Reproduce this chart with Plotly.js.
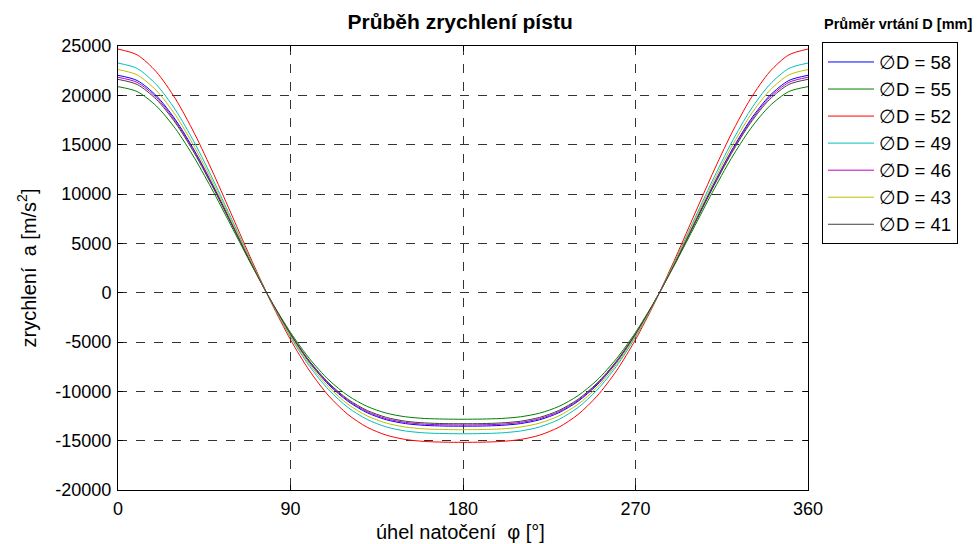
<!DOCTYPE html>
<html>
<head>
<meta charset="utf-8">
<script src="https://cdn.plot.ly/plotly-3.0.1.min.js"></script>
<style>html,body{margin:0;padding:0;background:#fff;}#chart{width:980px;height:544px;}</style>
</head>
<body>
<div id="chart"></div>
<script>
// angle of crank rotation [deg]
const phi = [0,10,20,30,40,50,60,70,80,90,100,110,120,130,140,150,160,170,180,190,200,210,220,230,240,250,260,270,280,290,300,310,320,330,340,350,360];
const seriesNames = ["\u2205D = 58","\u2205D = 55","\u2205D = 52","\u2205D = 49","\u2205D = 46","\u2205D = 43","\u2205D = 41"];
// acceleration values [m/s^2]
const aD58 = [22030,21500,19960,17520,14360,10690,6770,2830,-910,-4250,-7080,-9340,-11010,-12170,-12880,-13270,-13450,-13520,-13530,-13520,-13450,-13270,-12880,-12170,-11010,-9340,-7080,-4250,-910,2830,6770,10690,14360,17520,19960,21500,22030];
const aD55 = [20880,20380,18920,16610,13610,10130,6410,2680,-860,-4030,-6710,-8850,-10440,-11530,-12210,-12580,-12750,-12810,-12830,-12810,-12750,-12580,-12210,-11530,-10440,-8850,-6710,-4030,-860,2680,6410,10130,13610,16610,18920,20380,20880];
const aD52 = [24690,24100,22380,19640,16090,11980,7580,3170,-1020,-4760,-7940,-10470,-12350,-13640,-14440,-14880,-15080,-15150,-15170,-15150,-15080,-14880,-14440,-13640,-12350,-10470,-7940,-4760,-1020,3170,7580,11980,16090,19640,22380,24100,24690];
const aD49 = [23270,22720,21090,18510,15170,11300,7150,2980,-960,-4490,-7480,-9860,-11640,-12850,-13610,-14020,-14210,-14280,-14300,-14280,-14210,-14020,-13610,-12850,-11640,-9860,-7480,-4490,-960,2980,7150,11300,15170,18510,21090,22720,23270];
const aD46 = [21830,21310,19780,17360,14230,10590,6700,2800,-900,-4210,-7020,-9250,-10920,-12060,-12770,-13150,-13330,-13390,-13410,-13390,-13330,-13150,-12770,-12060,-10920,-9250,-7020,-4210,-900,2800,6700,10590,14230,17360,19780,21310,21830];
const aD43 = [22610,22070,20490,17990,14740,10970,6940,2900,-930,-4360,-7270,-9580,-11310,-12490,-13220,-13620,-13810,-13870,-13890,-13870,-13810,-13620,-13220,-12490,-11310,-9580,-7270,-4360,-930,2900,6940,10970,14740,17990,20490,22070,22610];
const aD41 = [21620,21100,19590,17200,14090,10490,6640,2770,-890,-4170,-6950,-9160,-10810,-11940,-12640,-13030,-13200,-13270,-13280,-13270,-13200,-13030,-12640,-11940,-10810,-9160,-6950,-4170,-890,2770,6640,10490,14090,17200,19590,21100,21620];
const xTicks = [0,90,180,270,360];
const yTicks = [-20000,-15000,-10000,-5000,0,5000,10000,15000,20000,25000];

const seriesData = [aD58,aD55,aD52,aD49,aD46,aD43,aD41];
const colors = ["#0000ff","#008000","#ff0000","#00bfbf","#bf00bf","#bfbf00","#404040"];

const traces = seriesData.map((ys,i)=>({
  x: phi, y: ys, type: "scatter", mode: "lines", name: seriesNames[i],
  line: {color: colors[i], width: 1, shape: "spline", smoothing: 0.8}
}));

const F = "Liberation Sans, Arial, sans-serif";
const layout = {
  width: 980, height: 544,
  paper_bgcolor: "#ffffff", plot_bgcolor: "#ffffff",
  margin: {l:118, r:172, t:46, b:54},
  font: {family: F, color: "#000", size: 18},
  title: {text: "<b>Průběh zrychlení pístu</b>", font: {family: F, size: 21, color:"#000"}, x: 0.4695, xanchor: "center", y: 0.96, yanchor: "middle"},
  xaxis: {
    range: [0,360], tickvals: xTicks, ticktext: xTicks.map(String),
    showline: true, linecolor: "#000", linewidth: 1, mirror: "ticks",
    ticks: "inside", ticklen: 5, tickcolor: "#000",
    showgrid: true, gridcolor: "#333", griddash: "dash", gridwidth: 1,
    zeroline: false, ticklabelstandoff: 2,
    tickfont: {family: F, size: 18}
  },
  yaxis: {
    range: [-20000,25000], tickvals: yTicks, ticktext: yTicks.map(String),
    showline: true, linecolor: "#000", linewidth: 1, mirror: "ticks",
    ticks: "inside", ticklen: 5, tickcolor: "#000",
    showgrid: true, gridcolor: "#333", griddash: "dash", gridwidth: 1,
    zeroline: false, ticklabelstandoff: 2,
    tickfont: {family: F, size: 18},
    title: {text: "zrychlení  a [m/s<sup>2</sup>]", font: {family: F, size: 20}, standoff: 13}
  },
  showlegend: true,
  legend: {
    x: 1.0203, xanchor: "left", y: 1.008, yanchor: "top",
    bgcolor: "#fff", bordercolor: "#000", borderwidth: 1,
    font: {family: F, size: 18.5, color: "#000"},
    itemwidth: 46, tracegroupgap: 0
  },
  annotations: [{
    text: "<b>Průměr vrtání D [mm]</b>", xref: "paper", yref: "paper",
    x: 1.1304, xanchor: "center", y: 1.05, yanchor: "middle", showarrow: false,
    font: {family: F, size: 14.5, color: "#000"}
  }, {
    text: "úhel natočení  φ [°]", xref: "paper", yref: "paper",
    x: 0.497, xanchor: "center", y: -0.094, yanchor: "middle", showarrow: false,
    font: {family: F, size: 20, color: "#000"}
  }]
};

Plotly.newPlot("chart", traces, layout, {displayModeBar: false, staticPlot: true});
</script>
</body>
</html>
